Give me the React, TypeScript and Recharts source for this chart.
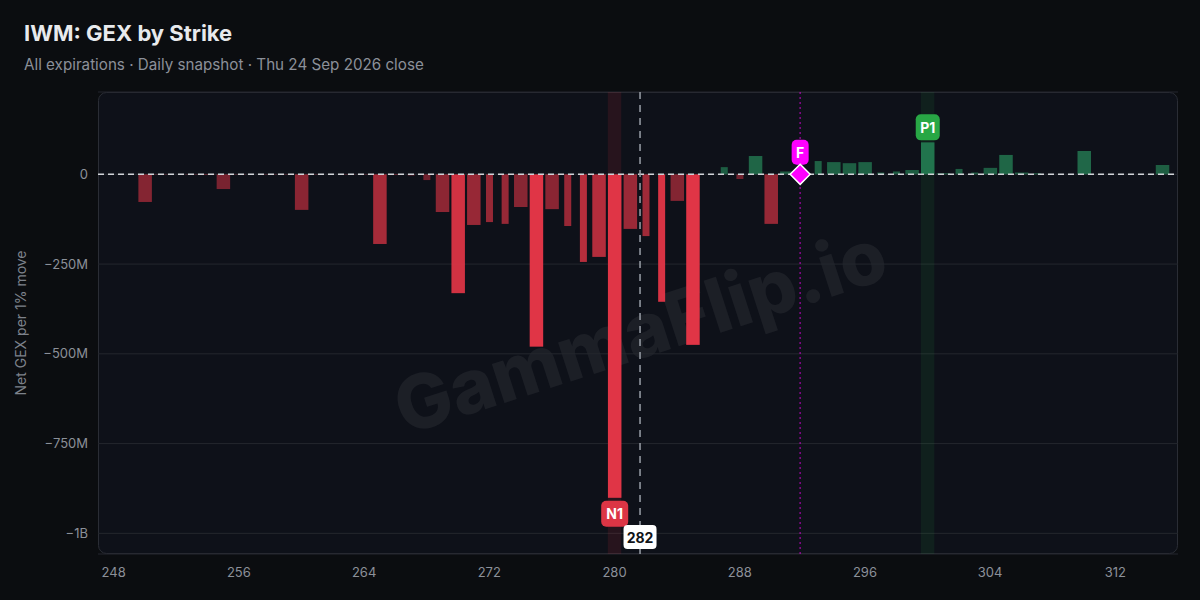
import React from "react";
import {
  ComposedChart,
  Bar,
  XAxis,
  YAxis,
  CartesianGrid,
  ReferenceLine,
  ReferenceArea,
  ReferenceDot,
} from "recharts";

// ---------- data ----------
const strikes = [
  247, 248, 249, 250, 251, 252, 253, 254, 255, 256, 257, 258, 259, 260, 261, 262, 263, 264, 265, 266,
  267, 268, 269, 270, 271, 272, 273, 274, 275, 276, 277, 278, 279, 280, 281, 282, 283, 284, 285, 286,
  287, 288, 289, 290, 291, 292, 293, 294, 295, 296, 297, 298, 299, 300, 301, 302, 303, 304, 305, 306,
  307, 308, 309, 310, 311, 312, 313, 314, 315,
];
// Net GEX per 1% move, $M
const netGexM = [
  0, 0, 0, -77, -1, 0, -1, -2, -41, -1, 0, -1, -1, -99, -1, 0, -1, -1, -194, -2,
  -3, -16, -105, -331, -141, -133, -138, -91, -480, -97, -144, -244, -230, -901, -152, -172, -355, -74, -475, 0,
  20, -13, 51, -138, 8, 4, 37, 34, 31, 34, 5, 8, 12, 89, 3, 15, 5, 18, 54, 5,
  3, 0, 0, 65, 0, 0, 0, 0, 26,
];
// strikes listed only in a subset of expirations (drawn thinner)
const partialStrikes = [267, 268, 272, 273, 277, 278, 282, 283, 287, 288, 293, 297, 298, 302, 303, 307];
const xTicks = [248, 256, 264, 272, 280, 288, 296, 304, 312];
const yTicks = [-1000, -750, -500, -250, 0];
const spotPrice = 281.63;
const flipStrike = 291.86;
const titleText = "IWM: GEX by Strike";
const subtitleText = "All expirations · Daily snapshot · Thu 24 Sep 2026 close";
const yLabelText = "Net GEX per 1% move";
const watermarkText = "GammaFlip.io";

// ---------- derived ----------
const data = strikes.map((s, i) => ({ strike: s, gex: netGexM[i] }));
const partialSet = new Set(partialStrikes);
const n1 = data.reduce((a, b) => (b.gex < a.gex ? b : a));
const p1 = data.reduce((a, b) => (b.gex > a.gex ? b : a));

const RED = "#e03546";
const GREEN = "#2fb170";
const FONT = "Inter, 'Noto Sans', sans-serif";
const TICK = { fill: "#8b9099", fontSize: 13 };

const fmtY = (v: number) => {
  if (v === 0) return "0";
  const a = Math.abs(v);
  const s = a >= 1000 ? `${a / 1000}B` : `${a}M`;
  return (v < 0 ? "\u2212" : "") + s;
};

const Tag = ({ cx, cy, text, bg, fg = "#fff", w, h = 25 }: any) => (
  <g>
    <rect x={cx - w / 2} y={cy - h / 2} width={w} height={h} rx={5} fill={bg} />
    <text
      x={cx}
      y={cy}
      textAnchor="middle"
      dominantBaseline="central"
      fill={fg}
      fontSize={14}
      fontWeight={700}
      fontFamily={FONT}
    >
      {text}
    </text>
  </g>
);

const GexBar = (props: any) => {
  const { x, y, width, height, payload } = props;
  if (!payload || !height || !payload.gex) return null;
  const v = payload.gex;
  const cx = x + width / 2;
  const w = partialSet.has(payload.strike) ? 7 : 13.5;
  const top = Math.min(y, y + height);
  const h = Math.abs(height);
  const a = Math.min(1, 0.45 + (Math.abs(v) / 380) * 0.55);
  const fill = v < 0 ? RED : GREEN;
  return (
    <g>
      <rect x={cx - w / 2} y={top} width={w} height={h} fill={fill} fillOpacity={a} />
      {payload.strike === n1.strike && <Tag cx={cx} cy={top + h + 16} text="N1" bg="#dc3545" w={27} h={26} />}
      {payload.strike === p1.strike && <Tag cx={cx} cy={top - 15} text="P1" bg="#28a745" w={24} h={26} />}
    </g>
  );
};

const FlipDot = (props: any) => {
  const { cx, cy } = props;
  const r = 10;
  return (
    <g>
      <Tag cx={cx} cy={cy - 22} text="F" bg="#ff00ff" w={17} h={25} />
      <polygon
        points={`${cx},${cy - r} ${cx + r},${cy} ${cx},${cy + r} ${cx - r},${cy}`}
        fill="#ff00ff"
        stroke="#ffffff"
        strokeWidth={1.5}
      />
    </g>
  );
};

const SpotLabel = (props: any) => {
  const vb = props.viewBox || {};
  const cx = vb.x;
  const bottom = (vb.y || 0) + (vb.height || 0);
  return (
    <g>
      <rect x={cx - 16.5} y={bottom - 29} width={33} height={24} rx={4} fill="#ffffff" />
      <text
        x={cx}
        y={bottom - 17}
        textAnchor="middle"
        dominantBaseline="central"
        fill="#111318"
        fontSize={14}
        fontWeight={700}
        fontFamily={FONT}
      >
        {Math.round(spotPrice)}
      </text>
    </g>
  );
};

export default function App() {
  return (
    <div
      style={{
        position: "fixed",
        left: 0,
        top: 0,
        width: 1200,
        height: 600,
        background: "#0b0d10",
        fontFamily: FONT,
        overflow: "hidden",
      }}
    >
      <svg width={1200} height={600} style={{ position: "absolute", left: 0, top: 0 }}>
        <rect x={0} y={0} width={1200} height={600} fill="#0b0d10" />
        <rect x={98.5} y={92.5} width={1079} height={461} rx={8} fill="#0e1119" stroke="#2a2d35" />
        <text x={24} y={41} fill="#e8eaed" fontSize={22} fontWeight={700} fontFamily={FONT}>
          {titleText}
        </text>
        <text x={24} y={70} fill="#8b9099" fontSize={15.2} fontFamily={FONT}>
          {subtitleText}
        </text>
        <text
          x={26}
          y={323}
          transform="rotate(-90 26 323)"
          textAnchor="middle"
          fill="#7d828b"
          fontSize={14}
          fontFamily={FONT}
        >
          {yLabelText}
        </text>
        <text
          x={640}
          y={330}
          transform="rotate(-18 640 330)"
          textAnchor="middle"
          dominantBaseline="central"
          fill="#ffffff"
          fillOpacity={0.06}
          fontSize={75}
          fontWeight={800}
          fontFamily={FONT}
        >
          {watermarkText}
        </text>
      </svg>
      <div style={{ position: "absolute", left: 0, top: 0 }}>
        <ComposedChart
          width={1200}
          height={600}
          data={data}
          margin={{ top: 92, right: 22, bottom: 16, left: 38 }}
        >
          <XAxis
            dataKey="strike"
            type="number"
            domain={[247, 316]}
            ticks={xTicks}
            interval={0}
            allowDataOverflow
            axisLine={false}
            tickLine={false}
            tickSize={0}
            tickMargin={14}
            height={30}
            tick={TICK}
          />
          <YAxis
            type="number"
            domain={[-1057.5, 229.3]}
            ticks={yTicks}
            interval={0}
            allowDataOverflow
            axisLine={false}
            tickLine={false}
            tickSize={0}
            tickMargin={10}
            width={60}
            tick={TICK}
            tickFormatter={fmtY}
          />
          <ReferenceArea
            x1={n1.strike - 0.43}
            x2={n1.strike + 0.43}
            fill="#dc3545"
            fillOpacity={0.12}
            stroke="none"
            ifOverflow="visible"
          />
          <ReferenceArea
            x1={p1.strike - 0.43}
            x2={p1.strike + 0.43}
            fill="#28a745"
            fillOpacity={0.1}
            stroke="none"
            ifOverflow="visible"
          />
          <CartesianGrid vertical={false} stroke="#24272e" />
          <Bar dataKey="gex" barSize={14} shape={<GexBar />} isAnimationActive={false} />
          <ReferenceLine
            x={flipStrike}
            stroke="#ff00ff"
            strokeOpacity={0.5}
            strokeWidth={1.5}
            strokeDasharray="2 3"
          />
          <ReferenceLine y={0} stroke="#d0d3d8" strokeWidth={1.5} strokeDasharray="6 4" />
          <ReferenceLine
            x={spotPrice}
            stroke="#9aa0a8"
            strokeWidth={1.5}
            strokeDasharray="7 6"
            label={SpotLabel}
          />
          <ReferenceDot x={flipStrike} y={0} r={10} shape={FlipDot} ifOverflow="visible" />
        </ComposedChart>
      </div>
    </div>
  );
}
